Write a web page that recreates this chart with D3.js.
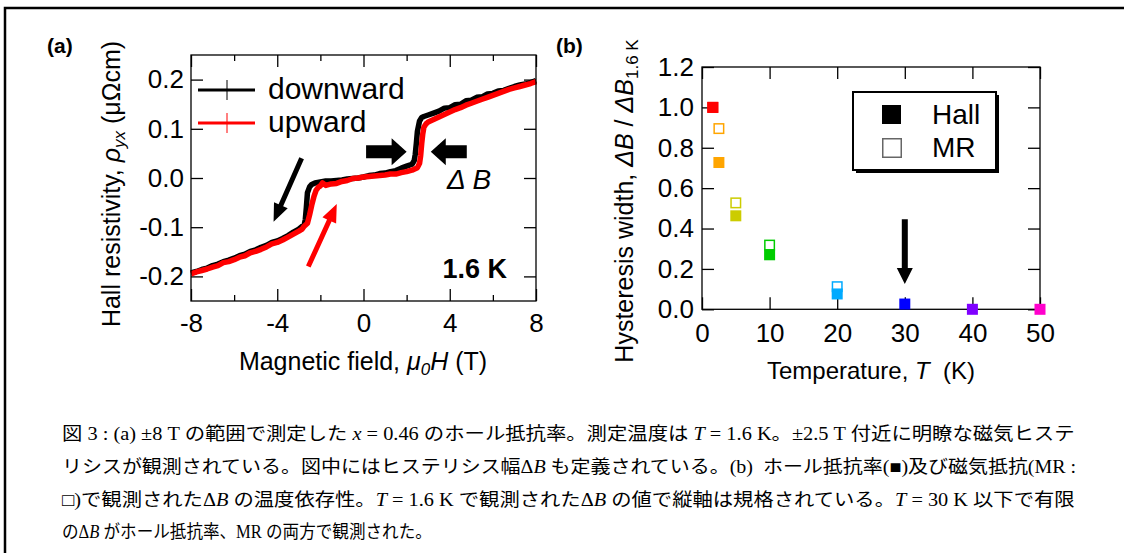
<!DOCTYPE html>
<html>
<head>
<meta charset="utf-8">
<script src="https://cdn.jsdelivr.net/npm/d3@7"></script>
<style>
  body { margin: 0; background: #fff; }
  svg { display: block; font-family: 'Liberation Sans', Arial, sans-serif; }
  .cap { font-family: 'Liberation Serif', 'Times New Roman', 'Noto Sans CJK JP', serif; font-size: 18px; }
</style>
</head>
<body>
<div id="fig"></div>
<script>
// (a) Hall resistivity at 1.6 K, downward sweep (+8 -> -8 T)
const downField = [8, 7.75, 7.5, 7.25, 7, 6.75, 6.5, 6.25, 6, 5.75, 5.5, 5.25, 5, 4.75, 4.5, 4.25, 4, 3.75, 3.5, 3.25, 3, 2.8, 2.7, 2.6, 2.5, 2.45, 2.4, 2.35, 2.25, 2, 1.75, 1.5, 1.25, 1, 0.75, 0.5, 0.25, 0, -0.25, -0.5, -0.75, -1, -1.25, -1.5, -1.75, -2, -2.25, -2.4, -2.5, -2.6, -2.65, -2.7, -2.75, -3, -3.25, -3.5, -3.75, -4, -4.25, -4.5, -4.75, -5, -5.25, -5.5, -5.75, -6, -6.25, -6.5, -6.75, -7, -7.25, -7.5, -7.75, -8]
const downRho = [0.198, 0.194, 0.191, 0.189, 0.186, 0.182, 0.178, 0.177, 0.172, 0.171, 0.165, 0.164, 0.158, 0.157, 0.150, 0.149, 0.143, 0.142, 0.136, 0.132, 0.128, 0.125, 0.123, 0.116, 0.095, 0.070, 0.048, 0.035, 0.028, 0.024, 0.020, 0.015, 0.013, 0.010, 0.009, 0.006, 0.005, 0.002, 0.000, -0.001, -0.002, -0.004, -0.005, -0.006, -0.006, -0.008, -0.010, -0.013, -0.018, -0.030, -0.060, -0.085, -0.095, -0.104, -0.110, -0.117, -0.123, -0.128, -0.131, -0.137, -0.141, -0.146, -0.149, -0.155, -0.158, -0.163, -0.167, -0.170, -0.175, -0.178, -0.183, -0.186, -0.190, -0.193]

// (a) upward sweep (-8 -> +8 T)
const upField = [-8, -7.75, -7.5, -7.25, -7, -6.75, -6.5, -6.25, -6, -5.75, -5.5, -5.25, -5, -4.75, -4.5, -4.25, -4, -3.75, -3.5, -3.25, -3, -2.85, -2.75, -2.6, -2.5, -2.4, -2.3, -2.2, -2.1, -2, -1.9, -1.75, -1.5, -1.25, -1, -0.75, -0.5, -0.25, 0, 0.25, 0.5, 0.75, 1, 1.25, 1.5, 1.75, 2, 2.25, 2.5, 2.6, 2.65, 2.7, 2.75, 2.8, 2.9, 3, 3.25, 3.5, 3.75, 4, 4.25, 4.5, 4.75, 5, 5.25, 5.5, 5.75, 6, 6.25, 6.5, 6.75, 7, 7.25, 7.5, 7.75, 8]
const upRho = [-0.195, -0.191, -0.188, -0.185, -0.181, -0.178, -0.172, -0.170, -0.166, -0.161, -0.158, -0.152, -0.149, -0.145, -0.140, -0.134, -0.131, -0.126, -0.120, -0.114, -0.108, -0.104, -0.098, -0.092, -0.075, -0.055, -0.038, -0.025, -0.019, -0.016, -0.010, -0.015, -0.012, -0.011, -0.007, -0.005, -0.001, 0.000, 0.002, 0.003, 0.004, 0.005, 0.006, 0.008, 0.008, 0.011, 0.013, 0.016, 0.021, 0.030, 0.045, 0.070, 0.090, 0.103, 0.110, 0.114, 0.119, 0.124, 0.129, 0.134, 0.139, 0.143, 0.148, 0.152, 0.156, 0.160, 0.164, 0.168, 0.172, 0.176, 0.180, 0.183, 0.186, 0.189, 0.192, 0.196]

const aTicksX = [-8, -4, 0, 4, 8]
const aMinorX = [-6, -2, 2, 6]
const aTicksY = [-0.2, -0.1, 0, 0.1, 0.2]

// (b) hysteresis width normalised by 1.6 K value
const hallT = [1.6, 2.5, 5, 10, 20, 30, 40, 50]
const hallW = [1.0, 0.727, 0.463, 0.27, 0.076, 0.026, 0.0, 0.0]
const mrT = [1.6, 2.5, 5, 10, 20]
const mrW = [1.0, 0.895, 0.527, 0.318, 0.112]
const tempColors = ['#ff0000', '#ffa500', '#cccc00', '#00cc00', '#00aaff', '#0000ff', '#7f00ff', '#ff00cc']
const bTicksX = [0, 10, 20, 30, 40, 50]
const bTicksY = [0, 0.2, 0.4, 0.6, 0.8, 1.0, 1.2]

// caption, segments [text, italic]
const captionLines = [
  [['図 3 : (a) ±8 T の範囲で測定した ', 0], ['x', 1], [' = 0.46 のホール抵抗率。測定温度は ', 0], ['T', 1], [' = 1.6 K。±2.5 T 付近に明瞭な磁気ヒステ', 0]],
  [['リシスが観測されている。図中にはヒステリシス幅Δ', 0], ['B', 1], [' も定義されている。(b)  ホール抵抗率(■)及び磁気抵抗(MR :', 0]],
  [['□)で観測されたΔ', 0], ['B', 1], [' の温度依存性。', 0], ['T', 1], [' = 1.6 K で観測されたΔ', 0], ['B', 1], [' の値で縦軸は規格されている。', 0], ['T', 1], [' = 30 K 以下で有限', 0]],
  [['のΔ', 0], ['B', 1], [' がホール抵抗率、MR の両方で観測された。', 0]]
]
const captionWidths = [1013, 1015, 1013, 370]

;(() => {
  const W = 1124, H = 553
  const svg = d3.select('#fig').append('svg').attr('width', W).attr('height', H)

  // outer frame (only top and left visible)
  svg.append('path').attr('d', `M5,${H} V8 H${W}`).attr('fill', 'none').attr('stroke', '#000').attr('stroke-width', 2.5)

  const styleAxis = (g, size) => {
    g.attr('font-size', size).attr('font-family', null)
    g.select('.domain').remove()
    g.selectAll('line').attr('stroke-width', 1.3)
    g.selectAll('text').attr('fill', '#000')
  }

  const arrow = (x1, y1, x2, y2, shaft, headW, headL) => {
    const dx = x2 - x1, dy = y2 - y1, len = Math.hypot(dx, dy)
    const ux = dx / len, uy = dy / len, nx = -uy, ny = ux
    const bx = x2 - ux * headL, by = y2 - uy * headL
    return [
      [x1 + nx * shaft / 2, y1 + ny * shaft / 2],
      [bx + nx * shaft / 2, by + ny * shaft / 2],
      [bx + nx * headW / 2, by + ny * headW / 2],
      [x2, y2],
      [bx - nx * headW / 2, by - ny * headW / 2],
      [bx - nx * shaft / 2, by - ny * shaft / 2],
      [x1 - nx * shaft / 2, y1 - ny * shaft / 2]
    ].map(p => p.join(',')).join(' ')
  }

  // ---------------- panel (a) ----------------
  const xa = d3.scaleLinear().domain([-8, 8]).range([191, 536])
  const ya = d3.scaleLinear().domain([-0.25, 0.25]).range([301, 55])
  const ga = svg.append('g')

  ga.append('g').attr('transform', 'translate(0,301)')
    .call(d3.axisBottom(xa).tickValues(aTicksX).tickSizeInner(-12).tickSizeOuter(0).tickPadding(12.5).tickFormat(d => String(d)))
    .call(g => styleAxis(g, 26))
  ga.append('g').attr('transform', 'translate(0,301)')
    .call(d3.axisBottom(xa).tickValues(aMinorX).tickSizeInner(-6).tickSizeOuter(0).tickFormat(''))
    .call(g => styleAxis(g, 26))
  ga.append('g').attr('transform', 'translate(0,55)')
    .call(d3.axisTop(xa).tickValues(aTicksX).tickSizeInner(-12).tickSizeOuter(0).tickFormat(''))
    .call(g => styleAxis(g, 26))
  ga.append('g').attr('transform', 'translate(0,55)')
    .call(d3.axisTop(xa).tickValues(aMinorX).tickSizeInner(-6).tickSizeOuter(0).tickFormat(''))
    .call(g => styleAxis(g, 26))
  ga.append('g').attr('transform', 'translate(191,0)')
    .call(d3.axisLeft(ya).tickValues(aTicksY).tickSizeInner(-12).tickSizeOuter(0).tickPadding(7).tickFormat(d => d.toFixed(1)))
    .call(g => styleAxis(g, 26))
  ga.append('g').attr('transform', 'translate(536,0)')
    .call(d3.axisRight(ya).tickValues(aTicksY).tickSizeInner(-12).tickSizeOuter(0).tickFormat(''))
    .call(g => styleAxis(g, 26))

  const lineA = d3.line().x(d => xa(d[0])).y(d => ya(d[1]))
  ga.append('path').datum(d3.zip(downField, downRho)).attr('d', lineA)
    .attr('fill', 'none').attr('stroke', '#000').attr('stroke-width', 5.5).attr('stroke-linejoin', 'round')
  ga.append('path').datum(d3.zip(upField, upRho)).attr('d', lineA)
    .attr('fill', 'none').attr('stroke', '#ff0000').attr('stroke-width', 5.5).attr('stroke-linejoin', 'round')

  ga.append('rect').attr('x', 191).attr('y', 55).attr('width', 345).attr('height', 246)
    .attr('fill', 'none').attr('stroke', '#000').attr('stroke-width', 1.3)

  // legend (a)
  const legA = [['downward', '#000', 90], ['upward', '#ff0000', 123]]
  legA.forEach(([name, col, y]) => {
    ga.append('line').attr('x1', 198).attr('x2', 255).attr('y1', y).attr('y2', y).attr('stroke', col).attr('stroke-width', 3)
    ga.append('line').attr('x1', 227).attr('x2', 227).attr('y1', y - 10).attr('y2', y + 10).attr('stroke', col).attr('stroke-width', 1)
    ga.append('text').attr('x', 268).attr('y', y + 9).attr('font-size', 30).text(name)
  })

  // annotation arrows (a), in data units
  const arrowsA = [
    { from: [-2.87, 0.040], to: [-4.17, -0.089], col: '#000', shaft: 5, hw: 15, hl: 18 },
    { from: [-2.56, -0.180], to: [-1.24, -0.053], col: '#ff0000', shaft: 5, hw: 15, hl: 18 },
    { from: [0.12, 0.0535], to: [2.0, 0.0535], col: '#000', shaft: 13, hw: 27, hl: 15 },
    { from: [4.79, 0.0535], to: [3.12, 0.0535], col: '#000', shaft: 13, hw: 27, hl: 15 }
  ]
  arrowsA.forEach(a => {
    ga.append('polygon')
      .attr('points', arrow(xa(a.from[0]), ya(a.from[1]), xa(a.to[0]), ya(a.to[1]), a.shaft, a.hw, a.hl))
      .attr('fill', a.col)
  })

  ga.append('text').attr('x', 447).attr('y', 189).attr('font-size', 28).attr('font-style', 'italic').text('Δ B')
  ga.append('text').attr('x', 507).attr('y', 278).attr('font-size', 27).attr('font-weight', 'bold').attr('text-anchor', 'end').text('1.6 K')

  ga.append('text').attr('x', 47).attr('y', 53).attr('font-size', 21).attr('font-weight', 'bold').text('(a)')

  const xlabA = ga.append('text').attr('x', 363).attr('y', 370).attr('font-size', 25).attr('text-anchor', 'middle')
  xlabA.append('tspan').text('Magnetic field, ')
  xlabA.append('tspan').attr('font-style', 'italic').text('μ')
  xlabA.append('tspan').attr('font-style', 'italic').attr('font-size', 17).attr('dy', 5).text('0')
  xlabA.append('tspan').attr('font-style', 'italic').attr('dy', -5).text('H')
  xlabA.append('tspan').text(' (T)')

  const ylabA = ga.append('text').attr('transform', 'translate(120,184) rotate(-90)').attr('font-size', 25).attr('text-anchor', 'middle')
  ylabA.append('tspan').text('Hall resistivity, ')
  ylabA.append('tspan').attr('font-style', 'italic').text('ρ')
  ylabA.append('tspan').attr('font-style', 'italic').attr('font-size', 17).attr('dy', 5).text('yx')
  ylabA.append('tspan').attr('dy', -5).text(' (μΩcm)')

  // ---------------- panel (b) ----------------
  const xb = d3.scaleLinear().domain([0, 50]).range([702, 1040])
  const yb = d3.scaleLinear().domain([0, 1.2]).range([309.3, 67])
  const gb = svg.append('g')

  gb.append('g').attr('transform', 'translate(0,309.3)')
    .call(d3.axisBottom(xb).tickValues(bTicksX).tickSizeInner(-12).tickSizeOuter(0).tickPadding(14).tickFormat(d => String(d)))
    .call(g => styleAxis(g, 26))
  gb.append('g').attr('transform', 'translate(0,67)')
    .call(d3.axisTop(xb).tickValues(bTicksX).tickSizeInner(-12).tickSizeOuter(0).tickFormat(''))
    .call(g => styleAxis(g, 26))
  gb.append('g').attr('transform', 'translate(702,0)')
    .call(d3.axisLeft(yb).tickValues(bTicksY).tickSizeInner(-12).tickSizeOuter(0).tickPadding(8).tickFormat(d => d.toFixed(1)))
    .call(g => styleAxis(g, 26))
  gb.append('g').attr('transform', 'translate(1040,0)')
    .call(d3.axisRight(yb).tickValues(bTicksY).tickSizeInner(-12).tickSizeOuter(0).tickFormat(''))
    .call(g => styleAxis(g, 26))

  gb.append('rect').attr('x', 702).attr('y', 67).attr('width', 338).attr('height', 242.3)
    .attr('fill', 'none').attr('stroke', '#000').attr('stroke-width', 1.3)

  const ms = 11
  gb.selectAll('.mr').data(d3.zip(mrT, mrW, tempColors.slice(0, mrT.length))).join('rect')
    .attr('class', 'mr')
    .attr('x', d => xb(d[0]) - (ms - 1.5) / 2).attr('y', d => yb(d[1]) - (ms - 1.5) / 2)
    .attr('width', ms - 1.5).attr('height', ms - 1.5)
    .attr('fill', 'none').attr('stroke', d => d[2]).attr('stroke-width', 1.5)
  gb.selectAll('.hall').data(d3.zip(hallT, hallW, tempColors)).join('rect')
    .attr('class', 'hall')
    .attr('x', d => xb(d[0]) - ms / 2).attr('y', d => yb(d[1]) - ms / 2)
    .attr('width', ms).attr('height', ms)
    .attr('fill', d => d[2])

  gb.append('polygon').attr('points', arrow(xb(30), yb(0.446), xb(30), yb(0.125), 6, 16, 16)).attr('fill', '#000')

  // legend (b)
  gb.append('rect').attr('x', 856).attr('y', 95).attr('width', 143).attr('height', 78).attr('fill', '#000')
  gb.append('rect').attr('x', 853).attr('y', 92).attr('width', 143).attr('height', 78)
    .attr('fill', '#fff').attr('stroke', '#000').attr('stroke-width', 2)
  gb.append('rect').attr('x', 882).attr('y', 105).attr('width', 19).attr('height', 19).attr('fill', '#000')
  gb.append('rect').attr('x', 882.75).attr('y', 138.75).attr('width', 18.5).attr('height', 18.5)
    .attr('fill', 'none').attr('stroke', '#666').attr('stroke-width', 1.5)
  gb.append('text').attr('x', 932).attr('y', 124).attr('font-size', 28).text('Hall')
  gb.append('text').attr('x', 932).attr('y', 157).attr('font-size', 28).text('MR')

  gb.append('text').attr('x', 556).attr('y', 53).attr('font-size', 21).attr('font-weight', 'bold').text('(b)')

  const xlabB = gb.append('text').attr('x', 871).attr('y', 379).attr('font-size', 24).attr('text-anchor', 'middle').attr('xml:space', 'preserve')
  xlabB.append('tspan').text('Temperature, ')
  xlabB.append('tspan').attr('font-style', 'italic').text('T')
  xlabB.append('tspan').text('  (K)')

  const ylabB = gb.append('text').attr('transform', 'translate(633,201) rotate(-90)').attr('font-size', 25).attr('text-anchor', 'middle')
  ylabB.append('tspan').text('Hysteresis width, ')
  ylabB.append('tspan').attr('font-style', 'italic').text('ΔB')
  ylabB.append('tspan').text(' / ')
  ylabB.append('tspan').attr('font-style', 'italic').text('ΔB')
  ylabB.append('tspan').attr('font-size', 17).attr('dy', 5).text('1.6 K')

  // ---------------- caption ----------------
  const capY = [440, 473, 506, 538]
  captionLines.forEach((segs, i) => {
    const t = svg.append('text').attr('class', 'cap').attr('xml:space', 'preserve')
    segs.forEach(([s, it]) => t.append('tspan').attr('font-style', it ? 'italic' : null).text(s))
    const k = captionWidths[i] / t.node().getComputedTextLength()
    t.attr('transform', `translate(62,${capY[i]}) scale(${k},1)`)
  })
})()
</script>
</body>
</html>
